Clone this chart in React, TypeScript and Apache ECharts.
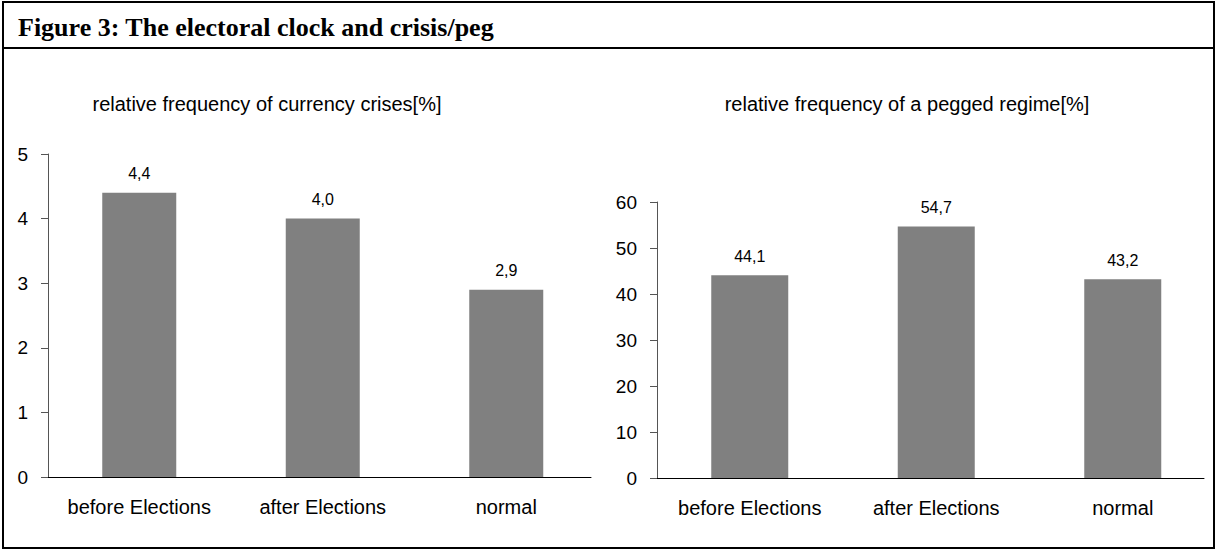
import React, { useEffect, useRef } from "react";
import * as echarts from "echarts";

const categories = ["before Elections", "after Elections", "normal"];
const crisisValues = [4.4, 4.0, 2.9];
const pegValues = [44.1, 54.7, 43.2];
const crisisTicks = { min: 0, max: 5, interval: 1 };
const pegTicks = { min: 0, max: 60, interval: 10 };
const mainTitle = "Figure 3: The electoral clock and crisis/peg";
const crisisTitle = "relative frequency of currency crises[%]";
const pegTitle = "relative frequency of a pegged regime[%]";

const SANS = "'Liberation Sans', Arial, sans-serif";
const SERIF = "'Liberation Serif', 'Times New Roman', serif";
const BAR = "#808080";

function fmt(v: number) {
  return v.toFixed(1).replace(".", ",");
}

export default function App() {
  const ref = useRef<HTMLDivElement>(null);
  useEffect(() => {
    document.body.style.margin = "0";
    if (!ref.current) return;
    const chart = echarts.init(ref.current, undefined, { renderer: "svg" });

    const valueAxis = (t: any, show: boolean, gridIndex: number) => ({
      type: "value",
      gridIndex,
      min: t.min,
      max: t.max,
      interval: t.interval,
      show,
      axisLine: { show: true, lineStyle: { color: "#555", width: 1 } },
      axisTick: { show: true, inside: false, length: 7, lineStyle: { color: "#555" } },
      axisLabel: { fontFamily: SANS, fontSize: 19, color: "#000", margin: 20 },
      splitLine: { show: false },
    });

    const lineAxis = (gridIndex: number) => ({
      type: "category",
      gridIndex,
      data: categories,
      axisLine: { show: true, lineStyle: { color: "#000", width: 1 } },
      axisTick: { show: false },
      axisLabel: { show: false },
    });

    const labelAxis = (gridIndex: number) => ({
      type: "category",
      gridIndex,
      data: categories,
      axisLine: { show: false },
      axisTick: { show: false },
      axisLabel: {
        interval: 0,
        fontFamily: SANS,
        fontSize: 20,
        color: "#000",
        margin: 20,
        hideOverlap: false,
      },
    });

    const barLabel = {
      show: true,
      position: "top",
      distance: 11,
      fontFamily: SANS,
      fontSize: 16,
      color: "#000",
      formatter: (p: any) => fmt(p.value),
    };

    const option: any = {
      animation: false,
      backgroundColor: "#fff",
      title: [
        {
          text: mainTitle,
          left: 13,
          top: 9,
          textStyle: { fontFamily: SERIF, fontWeight: "bold", fontSize: 26, color: "#000" },
        },
        {
          text: crisisTitle,
          left: 262,
          top: 89,
          textAlign: "center",
          textStyle: { fontFamily: SANS, fontWeight: "normal", fontSize: 20, color: "#000" },
        },
        {
          text: pegTitle,
          left: 902,
          top: 89,
          textAlign: "center",
          textStyle: { fontFamily: SANS, fontWeight: "normal", fontSize: 20, color: "#000" },
        },
      ],
      graphic: [
        {
          type: "rect",
          shape: { x: 3, y: 2, width: 1211, height: 546 },
          style: { fill: "none", stroke: "#000", lineWidth: 2 },
          silent: true,
        },
        {
          type: "line",
          shape: { x1: 3, y1: 48, x2: 1214, y2: 48 },
          style: { stroke: "#000", lineWidth: 2 },
          silent: true,
        },
      ],
      grid: [
        { left: 48, top: 154, width: 543, height: 323 },
        { left: 47.5, top: 154, width: 550.5, height: 323 },
        { left: 657, top: 202, width: 547, height: 276 },
        { left: 656.5, top: 202, width: 576, height: 276 },
      ],
      xAxis: [lineAxis(0), labelAxis(1), lineAxis(2), labelAxis(3)],
      yAxis: [
        valueAxis(crisisTicks, true, 0),
        valueAxis(crisisTicks, false, 1),
        valueAxis(pegTicks, true, 2),
        valueAxis(pegTicks, false, 3),
      ],
      series: [
        {
          type: "bar",
          name: crisisTitle,
          xAxisIndex: 1,
          yAxisIndex: 1,
          data: crisisValues,
          barWidth: 74,
          itemStyle: { color: BAR },
          label: barLabel,
        },
        {
          type: "bar",
          name: pegTitle,
          xAxisIndex: 3,
          yAxisIndex: 3,
          data: pegValues,
          barWidth: 77,
          itemStyle: { color: BAR },
          label: barLabel,
        },
      ],
    };
    chart.setOption(option);
    return () => chart.dispose();
  }, []);
  return <div ref={ref} style={{ width: 1216, height: 549 }} />;
}
